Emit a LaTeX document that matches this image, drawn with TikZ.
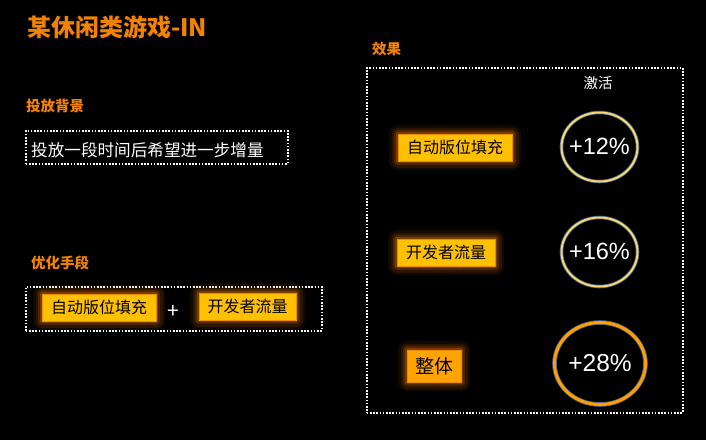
\documentclass[tikz,border=0pt]{standalone}
\usepackage{fontspec}
\setmainfont{Noto Sans CJK SC}
\newfontfamily\numfont{Liberation Sans}
\definecolor{orangeT}{RGB}{242,130,0}
\definecolor{tagY}{RGB}{255,192,0}
\definecolor{tagB}{RGB}{235,140,0}
\definecolor{tagO}{RGB}{255,163,0}
\definecolor{glowC}{RGB}{255,130,0}
\definecolor{ringY}{RGB}{250,214,110}
\definecolor{ringB}{RGB}{70,95,140}
\definecolor{ringO}{RGB}{255,158,0}
\begin{document}
\begin{tikzpicture}[x=1pt,y=-1pt,
  dotbox/.style={draw=white, line width=1.6pt, dash pattern=on 1.6pt off 1.6pt},
  glow/.style={
    preaction={draw=glowC, line width=18pt, opacity=0.07, line join=round},
    preaction={draw=glowC, line width=13pt, opacity=0.10, line join=round},
    preaction={draw=glowC, line width=8pt, opacity=0.16, line join=round},
    preaction={draw=glowC, line width=4pt, opacity=0.25, line join=round}},
  tag/.style={glow, fill=tagY, draw=tagB, line width=1pt, text=black,
    font=\fontsize{16}{16}\selectfont, inner sep=0pt, minimum height=27pt},
  head/.style={text=orangeT, font=\bfseries\fontsize{14.5}{14.5}\selectfont, anchor=west, inner sep=0pt},
  pct/.style={text=white, inner sep=0pt, font=\numfont\fontsize{23.5}{23.5}\selectfont},
  ringhalo/.style={draw=ringB, line width=3.6pt},
  ringline/.style={draw=ringY, line width=2pt},
  plain/.style={text=white, inner sep=0pt}
]
\fill[black] (0,0) rectangle (706,440);
\useasboundingbox (0,0) rectangle (706,440);

% title
\node[anchor=west, inner sep=0pt, text=orangeT, font=\bfseries\fontsize{24}{24}\selectfont] (title) at (27,27) {某休闲类游戏-IN};

% left side
\node[head] (bgh) at (26,106) {投放背景};
\node[dotbox, minimum width=262pt, minimum height=33pt, inner sep=0pt, anchor=north west] (bgbox) at (25,130) {};
\node[plain, anchor=west, font=\fontsize{16.6}{16.6}\selectfont] (bgtext) at (31,150) {投放一段时间后希望进一步增量};

\node[head] (opth) at (31,263) {优化手段};
\node[dotbox, minimum width=296pt, minimum height=44pt, inner sep=0pt, anchor=north west] (optbox) at (25,286) {};
\node[tag, minimum width=114pt] (t1) at (99,307.5) {自动版位填充};
\node[plain, font=\fontsize{21}{21}\selectfont] (plus) at (173,312) {+};
\node[tag, minimum width=97pt] (t2) at (247.5,306.5) {开发者流量};

% right side
\node[head] (effh) at (372,49) {效果};
\node[dotbox, minimum width=316pt, minimum height=345pt, inner sep=0pt, anchor=north west] (effbox) at (366,67) {};
\node[plain, font=\fontsize{14.5}{14.5}\selectfont] (act) at (598,83) {激活};

\node[tag, minimum width=114pt] (r1) at (455,147.5) {自动版位填充};
\draw[ringhalo] (599.5,147) ellipse [x radius=38, y radius=34.5];
\draw[ringline] (599.5,147) ellipse [x radius=38, y radius=34.5];
\node[pct] (e1) at (599.5,146) {+12\%};

\node[tag, minimum width=98pt] (r2) at (446,252.5) {开发者流量};
\draw[ringhalo] (599.5,252) ellipse [x radius=38, y radius=34.5];
\draw[ringline] (599.5,252) ellipse [x radius=38, y radius=34.5];
\node[pct] (e2) at (599.5,251) {+16\%};

\node[tag, fill=tagO, minimum width=54pt, minimum height=32pt, font=\fontsize{19}{19}\selectfont] (r3) at (434,366) {整体};
\draw[ringB, line width=4.6pt] (600,363.5) ellipse [x radius=45.5, y radius=41];
\draw[ringO, line width=3pt] (600,363.5) ellipse [x radius=45.5, y radius=41];
\node[pct, font=\numfont\fontsize{24.5}{24.5}\selectfont] (e3) at (600,363) {+28\%};
\end{tikzpicture}
\end{document}
